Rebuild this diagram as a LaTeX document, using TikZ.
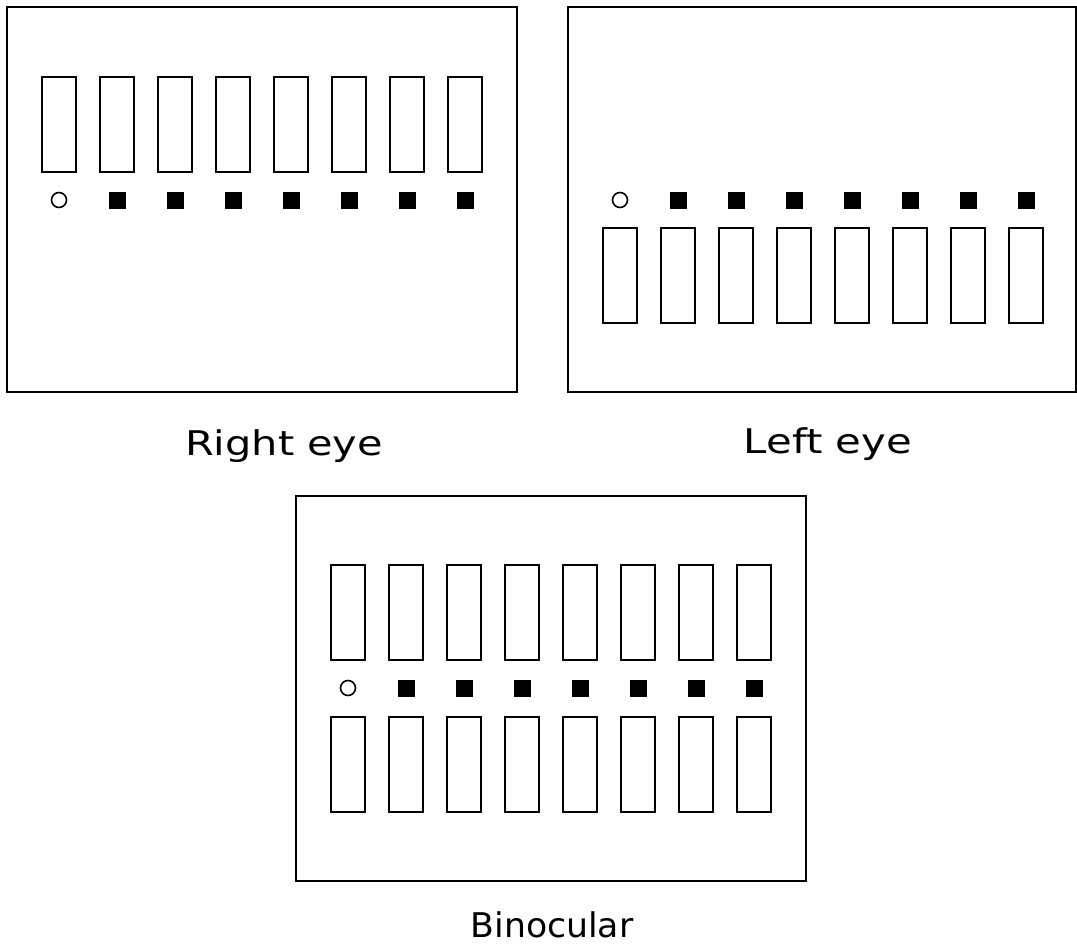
\documentclass[tikz,border=0pt]{standalone}
\usepackage{fontspec}
\setmainfont{DejaVu Sans}
\begin{document}
\begin{tikzpicture}[x=0.75pt,y=-0.75pt,
  panel/.style={draw=black,line width=2pt},
  bar/.style={draw=black,line width=1.7pt},
  ring/.style={draw=black,line width=1.2pt},
  lbl/.style={font=\fontsize{25.5pt}{30pt}\selectfont,anchor=base,inner sep=0pt}]
\useasboundingbox (0,0) rectangle (1077,949);
% panel 1: right eye
\begin{scope}
  \draw[panel] (7,7) rectangle (517,392);
  \foreach \k in {0,...,7} {
    \draw[bar] ({42+58*\k},77) rectangle ({76+58*\k},172);
  }
  \draw[ring] (59,200) circle (7.5);
  \foreach \k in {1,...,7} {
    \fill ({50.5+58*\k},191.5) rectangle ({67.5+58*\k},208.5);
  }
\end{scope}
% panel 2: left eye
\begin{scope}[shift={(561,0)}]
  \draw[panel] (7,7) rectangle (515,392);
  \foreach \k in {0,...,7} {
    \draw[bar] ({42+58*\k},228) rectangle ({76+58*\k},323);
  }
  \draw[ring] (59,200) circle (7.5);
  \foreach \k in {1,...,7} {
    \fill ({50.5+58*\k},191.5) rectangle ({67.5+58*\k},208.5);
  }
\end{scope}
% panel 3: binocular
\begin{scope}[shift={(289,489)}]
  \draw[panel] (7,7) rectangle (517,392);
  \foreach \k in {0,...,7} {
    \draw[bar] ({42+58*\k},76) rectangle ({76+58*\k},171);
    \draw[bar] ({42+58*\k},228) rectangle ({76+58*\k},323);
  }
  \draw[ring] (59,199) circle (7.5);
  \foreach \k in {1,...,7} {
    \fill ({50.5+58*\k},190.5) rectangle ({67.5+58*\k},207.5);
  }
\end{scope}
\node[lbl] (right) at (284,455) {\scalebox{1.22}[1]{Right eye}};
\node[lbl] (left) at (828,453) {\scalebox{1.23}[1]{Left eye}};
\node[lbl] (bino) at (552,937) {\scalebox{1.02}[1]{Binocular}};
\end{tikzpicture}
\end{document}
